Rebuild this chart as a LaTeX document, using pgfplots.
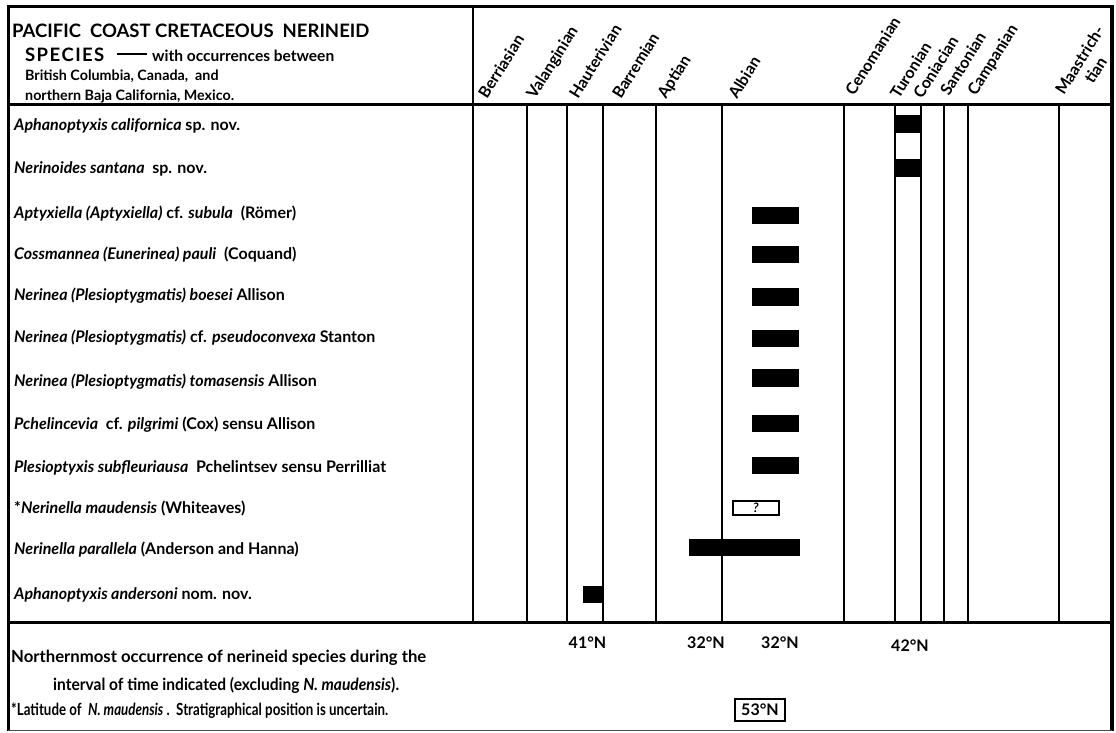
\documentclass[border=0pt]{standalone}
\usepackage{pgfplots}
\pgfplotsset{compat=1.18}
\usepackage{fontspec}
\setmainfont{Lato}
\newcommand\rowfont{\fontsize{16}{18}\selectfont\bfseries}
\newcommand\footfont{\fontsize{16.7}{18}\selectfont\bfseries}
\newcommand\stagefont{\fontsize{16}{17}\selectfont\bfseries}
\newcommand\titlefont{\fontsize{18.5}{20}\selectfont\bfseries}
\newcommand\subfont{\fontsize{14.3}{16}\selectfont\bfseries}
\newcommand\latfont{\fontsize{16}{18}\selectfont\bfseries}
\begin{document}
\begin{tikzpicture}
\begin{axis}[width=1116pt,height=732pt,scale only axis,
  xmin=0,xmax=1116,ymin=0,ymax=732,y dir=reverse,
  hide axis,clip=false]
\path (0,0) rectangle (1116,732);
% ---------- frame ----------
\draw[line width=3pt] (6.5,7) -- (1113.5,7);
\draw[line width=3pt] (8,5.5) -- (8,731);
\draw[line width=3.5pt] (1112,5.5) -- (1112,731);
\draw[line width=1pt,black!70] (8,730.5) -- (1112,730.5);
\draw[line width=3pt] (8,105) -- (1112,105);
\draw[line width=3pt] (8,622) -- (1112,622);
\draw[line width=2.5pt] (473,7) -- (473,622);
\pgfplotsinvokeforeach{527,567,603,656,722,844,895,921,944,968,1059}{
  \draw[line width=2pt] (#1,105) -- (#1,622);
}
% ---------- ranges ----------
\addplot[black,line width=18pt] coordinates {(895,124) (921,124)};
\addplot[black,line width=18pt] coordinates {(895,168) (921,168)};
\addplot[black,line width=17.5pt] coordinates {(752,215.5) (799,215.5)};
\addplot[black,line width=17.5pt] coordinates {(752,254.7) (799,254.7)};
\addplot[black,line width=17.5pt] coordinates {(752,297) (799,297)};
\addplot[black,line width=17.5pt] coordinates {(752,338.7) (799,338.7)};
\addplot[black,line width=17.5pt] coordinates {(752,378) (799,378)};
\addplot[black,line width=17.5pt] coordinates {(752,423.5) (799,423.5)};
\addplot[black,line width=17.5pt] coordinates {(752,465.5) (799,465.5)};
\addplot[black,line width=16pt] coordinates {(732,508) (780,508)};
\addplot[white,line width=12.6pt] coordinates {(733.7,508) (778.3,508)};
\addplot[black,line width=17.5pt] coordinates {(689,547.5) (800,547.5)};
\addplot[black,line width=17.5pt] coordinates {(583,594.5) (604,594.5)};
\node[font=\fontsize{13}{13}\selectfont\bfseries\itshape] at (756,508) {?};
% ---------- title ----------
\node[anchor=base west,font=\titlefont,inner sep=0pt] at (12,38) {PACIFIC\ \ COAST CRETACEOUS\ \ NERINEID};
\node[anchor=base west,font=\titlefont,inner sep=0pt] at (25,62) {S\kern1.4pt P\kern1.4pt E\kern1.4pt C\kern1.4pt I\kern1.4pt E\kern1.4pt S};
\node[anchor=base west,inner sep=0pt] at (117,62) {\rule[6.5pt]{30pt}{2pt}};
\node[anchor=base west,inner sep=0pt,font={\fontsize{15.5}{17}\selectfont\bfseries}] at (152,62) {with occurrences between};
\node[anchor=base west,font=\subfont,inner sep=0pt] at (25,81) {British Columbia, Canada,\ \ and};
\node[anchor=base west,font=\subfont,inner sep=0pt] at (25,101) {northern Baja California, Mexico.};
% ---------- stages ----------
\node[rotate=58,anchor=base west,font=\stagefont,inner sep=0pt] at (487,100) {Berriasian};
\node[rotate=58,anchor=base west,font=\stagefont,inner sep=0pt] at (535,100) {Valanginian};
\node[rotate=58,anchor=base west,font=\stagefont,inner sep=0pt] at (578,100) {Hauterivian};
\node[rotate=58,anchor=base west,font=\stagefont,inner sep=0pt] at (621,100) {Barremian};
\node[rotate=58,anchor=base west,font=\stagefont,inner sep=0pt] at (666,100) {Aptian};
\node[rotate=58,anchor=base west,font=\stagefont,inner sep=0pt] at (737,100) {Albian};
\node[rotate=58,anchor=base west,font=\stagefont,inner sep=0pt] at (854,97) {Cenomanian};
\node[rotate=58,anchor=base west,font=\stagefont,inner sep=0pt] at (899,100) {Turonian};
\node[rotate=58,anchor=base west,font=\stagefont,inner sep=0pt] at (922,100) {Coniacian};
\node[rotate=58,anchor=base west,font=\stagefont,inner sep=0pt] at (949,97) {Santonian};
\node[rotate=58,anchor=base west,font=\stagefont,inner sep=0pt] at (976,97) {Campanian};
\node[rotate=58,anchor=base west,font=\stagefont,inner sep=0pt] at (1064,96) {Maastrich-};
\node[rotate=58,anchor=base west,font=\stagefont,inner sep=0pt] at (1093,85) {tian};
% ---------- species ----------
\node[anchor=base west,font=\rowfont,inner sep=0pt] at (14,131) {\textit{Aphanoptyxis californica} sp. nov.};
\node[anchor=base west,font=\rowfont,inner sep=0pt] at (14,173.5) {\textit{Nerinoides santana}\ \ sp. nov.};
\node[anchor=base west,font=\rowfont,inner sep=0pt] at (14,218) {\textit{Aptyxiella (Aptyxiella)} cf. \textit{subula}\ \ (Römer)};
\node[anchor=base west,font=\rowfont,inner sep=0pt] at (14,259) {\textit{Cossmannea (Eunerinea) pauli}\ \ (Coquand)};
\node[anchor=base west,font=\rowfont,inner sep=0pt] at (14,300.5) {\textit{Nerinea (Plesioptygmatis) boesei} Allison};
\node[anchor=base west,font=\rowfont,inner sep=0pt] at (14,342.5) {\textit{Nerinea (Plesioptygmatis)} cf. \textit{pseudoconvexa} Stanton};
\node[anchor=base west,font=\rowfont,inner sep=0pt] at (14,386) {\textit{Nerinea (Plesioptygmatis) tomasensis} Allison};
\node[anchor=base west,font=\rowfont,inner sep=0pt] at (14,429.5) {\textit{Pchelincevia}\ \ cf. \textit{pilgrimi} (Cox) sensu Allison};
\node[anchor=base west,font=\rowfont,inner sep=0pt] at (14,472) {\textit{Plesioptyxis subfleuriausa}\ \ Pchelintsev sensu Perrilliat};
\node[anchor=base west,font=\rowfont,inner sep=0pt] at (14,513.5) {*\textit{Nerinella maudensis} (Whiteaves)};
\node[anchor=base west,font=\rowfont,inner sep=0pt] at (14,554.5) {\textit{Nerinella parallela} (Anderson and Hanna)};
\node[anchor=base west,font=\rowfont,inner sep=0pt] at (14,599.5) {\textit{Aphanoptyxis andersoni} nom. nov.};
% ---------- footer ----------
\node[font=\latfont] at (587.5,643) {41°N};
\node[font=\latfont] at (706,643) {32°N};
\node[font=\latfont] at (780,643) {32°N};
\node[font=\latfont] at (910,646) {42°N};
\node[draw,line width=1.8pt,inner sep=0pt,minimum width=50pt,minimum height=22pt,font=\latfont] at (760,710) {53°N};
\node[anchor=base west,font=\footfont,inner sep=0pt] at (11,662) {Northernmost occurrence of nerineid species during the};
\node[anchor=base west,font=\footfont,inner sep=0pt] at (53,690) {\resizebox{346pt}{\height}{interval of time indicated (excluding \textit{N. maudensis}).}};
\node[anchor=base west,font=\footfont,inner sep=0pt] at (11,715) {\resizebox{377pt}{\height}{*Latitude of\ \ \textit{N. maudensis}\ .\ \ Stratigraphical position is uncertain.}};
\end{axis}
\end{tikzpicture}
\end{document}
